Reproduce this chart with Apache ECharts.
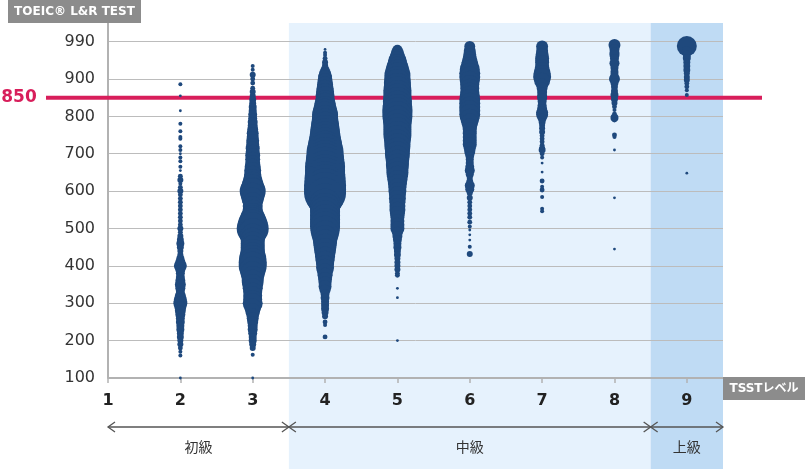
<!DOCTYPE html>
<html>
<head>
<meta charset="utf-8">
<title>TOEIC L&amp;R × TSST</title>
<script src="https://cdn.jsdelivr.net/npm/echarts@6/dist/echarts.min.js"></script>
<style>
  html, body { margin: 0; padding: 0; background: #fff; }
  #chart { width: 810px; height: 469px; }
</style>
</head>
<body>
<div id="chart"></div>
<script>
// TSSTレベル (x) と TOEIC L&R スコア (y)
const levels = [1, 2, 3, 4, 5, 6, 7, 8, 9];
const scoreMin = 100;
const scoreMax = 1000;     // 一番上の目盛りは 990 と表示
const scoreStep = 100;
const topTickLabel = '990';
const targetScore = 850;

// 級の区切り
const groupNames = ['初級', '中級', '上級'];
const groupBounds = [1, 3.5, 8.5, 9.5];

// [スコア, 人数]  レベルごと
const lv2 = [[886,4],[855,2],[815,2],[780,4],[760,4],[745,4],[740,4],[720,4],[710,4],[700,2],
  [690,4],[680,4],[665,4],[655,2],[640,6],[630,9],[620,4],[610,6],[600,9],[590,6],[580,6],
  [570,6],[560,6],[550,6],[540,6],[530,6],[520,6],[510,6],[500,9],[490,6],[480,9],[470,12],
  [460,16],[450,12],[440,9],[430,9],[420,16],[410,25],[400,42],[390,25],[380,20],[370,20],
  [360,25],[350,30],[340,25],[330,20],[320,30],[310,42],[300,49],[290,36],[280,30],[270,25],
  [260,20],[250,20],[240,16],[230,16],[220,12],[210,12],[200,9],[190,9],[180,6],[170,4],
  [160,4],[100,2]];
const lv3 = [[935,4],[925,4],[911,9],[900,6],[889,6],[875,6],[866,9],[855,9],[845,12],[835,12],
  [825,16],[815,16],[805,20],[795,20],[785,25],[775,25],[765,30],[755,36],[745,36],[735,42],
  [725,42],[715,49],[705,49],[695,56],[685,56],[675,56],[665,64],[655,72],[645,72],[635,81],
  [625,100],[615,121],[605,144],[600,169],[590,144],[580,121],[570,100],[560,100],[550,100],
  [540,110],[530,144],[520,182],[510,225],[500,256],[490,196],[480,156],[470,144],[460,144],
  [450,144],[440,144],[430,156],[420,182],[410,196],[400,196],[390,169],[380,144],[370,121],
  [360,121],[350,110],[340,100],[330,90],[320,90],[310,90],[300,100],[290,72],[280,56],
  [270,42],[260,36],[250,30],[240,25],[230,25],[220,20],[210,16],[200,16],[190,12],[180,9],
  [162,4],[100,2]];
const lv4 = [[979,2],[970,4],[964,4],[955,6],[945,9],[937,9],[925,20],[915,36],[905,49],[895,56],
  [885,64],[875,72],[865,81],[855,90],[845,90],[835,110],[825,121],[815,144],[805,169],
  [795,169],[785,182],[775,196],[765,210],[755,225],[745,240],[735,256],[725,289],[715,306],
  [705,342],[695,342],[685,361],[675,380],[665,400],[655,400],[645,400],[635,420],[625,420],
  [615,441],[605,441],[595,441],[585,361],[575,289],[565,240],[555,225],[545,225],[535,225],
  [525,225],[515,225],[505,225],[495,210],[485,182],[475,156],[465,144],[455,132],[445,121],
  [435,110],[425,100],[415,90],[405,81],[395,81],[385,64],[375,56],[365,49],[355,42],[345,42],
  [335,30],[325,20],[315,20],[305,16],[295,16],[285,16],[275,12],[265,9],[250,6],[242,4],
  [210,6]];
const lv5 = [[978,25],[970,42],[960,56],[950,81],[940,100],[930,121],[920,144],[910,169],
  [900,169],[890,182],[880,182],[870,196],[860,196],[850,196],[840,210],[830,210],[820,225],
  [810,225],[800,225],[790,210],[780,196],[770,196],[760,196],[750,196],[740,182],[730,169],
  [720,169],[710,156],[700,156],[690,144],[680,132],[670,132],[660,121],[650,121],[640,110],
  [630,100],[620,90],[610,81],[600,81],[590,72],[580,72],[570,64],[560,64],[550,64],[540,56],
  [530,49],[520,49],[510,49],[500,49],[490,30],[480,25],[470,20],[460,16],[450,16],[440,12],
  [430,12],[420,9],[410,9],[400,9],[390,9],[380,6],[375,6],[340,2],[315,2],[200,2]];
const lv6 = [[987,30],[975,36],[965,42],[955,49],[945,64],[935,81],[925,100],[915,110],[905,110],
  [895,100],[885,90],[875,90],[865,90],[855,100],[845,110],[835,110],[825,110],[815,110],
  [805,110],[795,90],[785,72],[775,56],[765,49],[755,49],[745,49],[735,49],[725,49],[715,36],
  [705,30],[695,20],[685,16],[675,16],[665,20],[655,25],[645,16],[635,9],[625,12],[615,25],
  [605,20],[595,9],[582,9],[570,6],[560,6],[550,6],[540,6],[530,6],[517,6],[505,4],[496,2],
  [483,2],[469,2],[451,4],[432,9]];
const lv7 = [[987,36],[975,36],[965,42],[955,49],[945,49],[935,49],[925,56],[915,72],[905,81],
  [895,64],[885,36],[876,30],[865,25],[855,25],[849,25],[840,20],[830,20],[820,25],[810,36],
  [804,36],[795,20],[785,12],[777,9],[768,9],[758,9],[748,6],[740,6],[732,6],[723,6],[715,9],
  [710,12],[700,6],[690,4],[675,2],[651,2],[627,6],[612,4],[603,6],[584,4],[553,4],[546,4]];
const lv8 = [[991,36],[980,25],[970,25],[964,25],[955,20],[942,25],[930,16],[919,16],[910,16],
  [900,30],[890,16],[879,12],[868,12],[857,16],[846,12],[836,9],[826,6],[817,4],[806,6],
  [796,16],[790,6],[750,6],[745,4],[710,2],[582,2],[445,2]];
const lv9 = [[988,100],[975,25],[965,16],[956,16],[945,12],[935,12],[924,12],[915,9],[905,9],
  [897,9],[888,6],[879,6],[870,4],[857,4],[648,2]];

const byLevel = {2: lv2, 3: lv3, 4: lv4, 5: lv5, 6: lv6, 7: lv7, 8: lv8, 9: lv9};

const bubbles = [];
Object.keys(byLevel).forEach(function (lv) {
  byLevel[lv].forEach(function (p) {
    bubbles.push([Number(lv), p[0], p[1]]);
  });
});

const FONT = 'DejaVu Sans, Verdana, sans-serif';
const FONT_JP = 'Noto Sans CJK JP, sans-serif';
const AXIS_GRAY = '#b2b2b2';
const NAVY = '#1f497d';
const RED = '#d81e5b';

var chart = echarts.init(document.getElementById('chart'));

var option = {
  animation: false,
  grid: { left: 108, right: 87, top: 41.6, bottom: 91 },
  xAxis: {
    type: 'value',
    min: 1,
    max: groupBounds[groupBounds.length - 1],
    interval: 1,
    splitLine: { show: false },
    axisLine: { lineStyle: { color: AXIS_GRAY, width: 2 } },
    axisTick: {
      customValues: levels,
      length: 5,
      lineStyle: { color: AXIS_GRAY, width: 1.5 }
    },
    axisLabel: {
      customValues: levels,
      margin: 15,
      color: '#222',
      fontSize: 16,
      fontWeight: 'bold',
      fontFamily: FONT,
      formatter: function (v) { return Number.isInteger(v) ? String(v) : ''; }
    }
  },
  yAxis: {
    type: 'value',
    min: scoreMin,
    max: scoreMax,
    interval: scoreStep,
    axisLine: { show: false },
    axisTick: { show: false },
    splitLine: { lineStyle: { color: '#bcbcbc', width: 1 } },
    axisLabel: {
      margin: 13,
      color: '#333',
      fontSize: 16,
      fontFamily: FONT,
      formatter: function (v) { return v === scoreMax ? topTickLabel : String(v); }
    }
  },
  series: [{
    type: 'scatter',
    data: bubbles,
    clip: false,
    silent: true,
    z: 3,
    symbolSize: function (d) { return 2 * Math.sqrt(d[2]); },
    itemStyle: { color: NAVY, opacity: 1 }
  }]
};
chart.setOption(option);

// 軸から位置を取って装飾を描く
function px(x, y) { return chart.convertToPixel({ gridIndex: 0 }, [x, y]); }
var axisTop = 23;
var x0 = px(1, scoreMin)[0];
var yBase = px(1, scoreMin)[1];
var yTarget = px(1, targetScore)[1];
var xb = groupBounds.map(function (b) { return px(b, scoreMin)[0]; });
var arrowY = 427;
var g = [];

// 中級・上級の背景
g.push({ type: 'rect', z: -10, shape: { x: xb[1], y: axisTop, width: xb[2] - xb[1], height: 469 - axisTop },
  style: { fill: '#e6f2fd' } });
g.push({ type: 'rect', z: -10, shape: { x: xb[2], y: axisTop, width: xb[3] - xb[2], height: 469 - axisTop },
  style: { fill: '#bfdbf4' } });

// y 軸の線
g.push({ type: 'line', z: 1, shape: { x1: x0, y1: axisTop, x2: x0, y2: yBase },
  style: { stroke: AXIS_GRAY, lineWidth: 2 } });

// 850 ライン
g.push({ type: 'line', z: 1, shape: { x1: 46, y1: yTarget, x2: 762, y2: yTarget },
  style: { stroke: RED, lineWidth: 4 } });
g.push({ type: 'text', z: 5, x: 19, y: yTarget,
  style: { text: String(targetScore), fill: RED, font: 'bold 17px ' + FONT, align: 'center', verticalAlign: 'middle' } });

// 軸名ボックス
g.push({ type: 'rect', z: 5, shape: { x: 8, y: 0, width: 133, height: 23 }, style: { fill: '#8c8c8c' } });
g.push({ type: 'text', z: 6, x: 74.5, y: 12,
  style: { text: 'TOEIC® L&R TEST', fill: '#fff', font: 'bold 12px ' + FONT, align: 'center', verticalAlign: 'middle' } });
g.push({ type: 'rect', z: 5, shape: { x: xb[3], y: yBase - 1, width: 82, height: 23 }, style: { fill: '#8c8c8c' } });
g.push({ type: 'text', z: 6, x: xb[3] + 41, y: yBase + 10.5,
  style: { text: 'TSSTレベル', fill: '#fff', font: 'bold 12px ' + FONT + ', ' + FONT_JP, align: 'center', verticalAlign: 'middle' } });

// 級の矢印とラベル
for (var i = 0; i < groupNames.length; i++) {
  var a = xb[i], b = xb[i + 1];
  g.push({ type: 'line', z: 5, shape: { x1: a, y1: arrowY, x2: b, y2: arrowY },
    style: { stroke: '#555', lineWidth: 1.3 } });
  g.push({ type: 'polyline', z: 5, shape: { points: [[a + 7, arrowY - 5], [a, arrowY], [a + 7, arrowY + 5]] },
    style: { stroke: '#555', lineWidth: 1.3, fill: null } });
  g.push({ type: 'polyline', z: 5, shape: { points: [[b - 7, arrowY - 5], [b, arrowY], [b - 7, arrowY + 5]] },
    style: { stroke: '#555', lineWidth: 1.3, fill: null } });
  g.push({ type: 'text', z: 5, x: (a + b) / 2, y: 447,
    style: { text: groupNames[i], fill: '#333', font: '14px ' + FONT_JP, align: 'center', verticalAlign: 'middle' } });
}

chart.setOption({ graphic: g });
</script>
</body>
</html>
